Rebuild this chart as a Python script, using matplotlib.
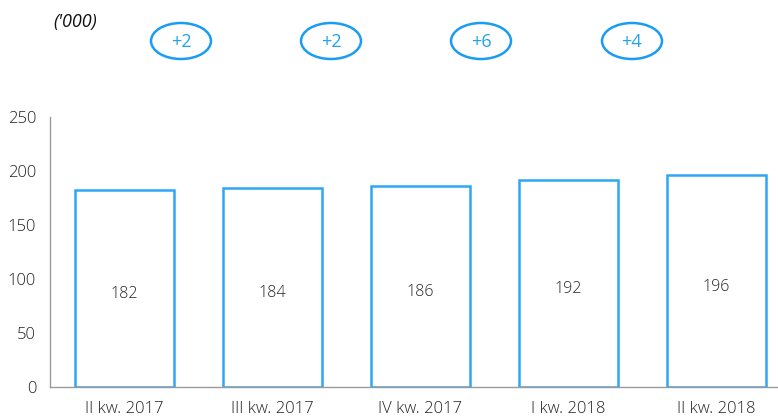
import matplotlib
matplotlib.use("Agg")
import matplotlib.pyplot as plt
from matplotlib.patches import Ellipse

categories = ["II kw. 2017", "III kw. 2017", "IV kw. 2017", "I kw. 2018", "II kw. 2018"]
values = [182, 184, 186, 192, 196]
changes = ["+2", "+2", "+6", "+4"]

plt.rcParams['font.family'] = ['Open Sans', 'DejaVu Sans']
plt.rcParams['font.weight'] = 'light'

W, H = 778, 417
fig = plt.figure(figsize=(W/100, H/100), dpi=100)
ax = fig.add_axes([50/W, 1 - 387/H, 1 - 50/W, 270/H])

blue = '#2ea6f5'
x = range(len(categories))
ax.bar(x, values, width=0.67, facecolor='white', edgecolor=blue, linewidth=1.8)
for xi, v in zip(x, values):
    ax.annotate(str(v), (xi, v/2), xytext=(0, -4), textcoords='offset points',
                ha='center', va='center', fontsize=11.5, color='#222222')

ax.set_ylim(0, 250)
ax.set_xlim(-0.503, 4.416)
ax.set_yticks([0, 50, 100, 150, 200, 250])
ax.set_xticks(list(x))
ax.set_xticklabels(categories)
ax.tick_params(axis='both', length=0, labelsize=12, colors='#222222')
ax.tick_params(axis='y', pad=10)
ax.tick_params(axis='x', pad=10)
for s in ['top', 'right']:
    ax.spines[s].set_visible(False)
for s in ['left', 'bottom']:
    ax.spines[s].set_color('#9a9a9a')
    ax.spines[s].set_linewidth(1.0)

fig.text(53/W, 1 - 22/H, "('000)", fontsize=13, style='italic', weight='normal',
         ha='left', va='center', color='#111111')

ell_x = [181, 331, 481, 632]
for ex, c in zip(ell_x, changes):
    e = Ellipse((ex/W, 1 - 41/H), 60/W, 36/H, transform=fig.transFigure,
                facecolor='white', edgecolor='#1a9cf5', linewidth=1.8)
    fig.patches.append(e)
    fig.text(ex/W, 1 - 42/H, c, fontsize=13, weight='normal', ha='center', va='center', color='#22a5e6')

fig.savefig("out.png", dpi=100)
